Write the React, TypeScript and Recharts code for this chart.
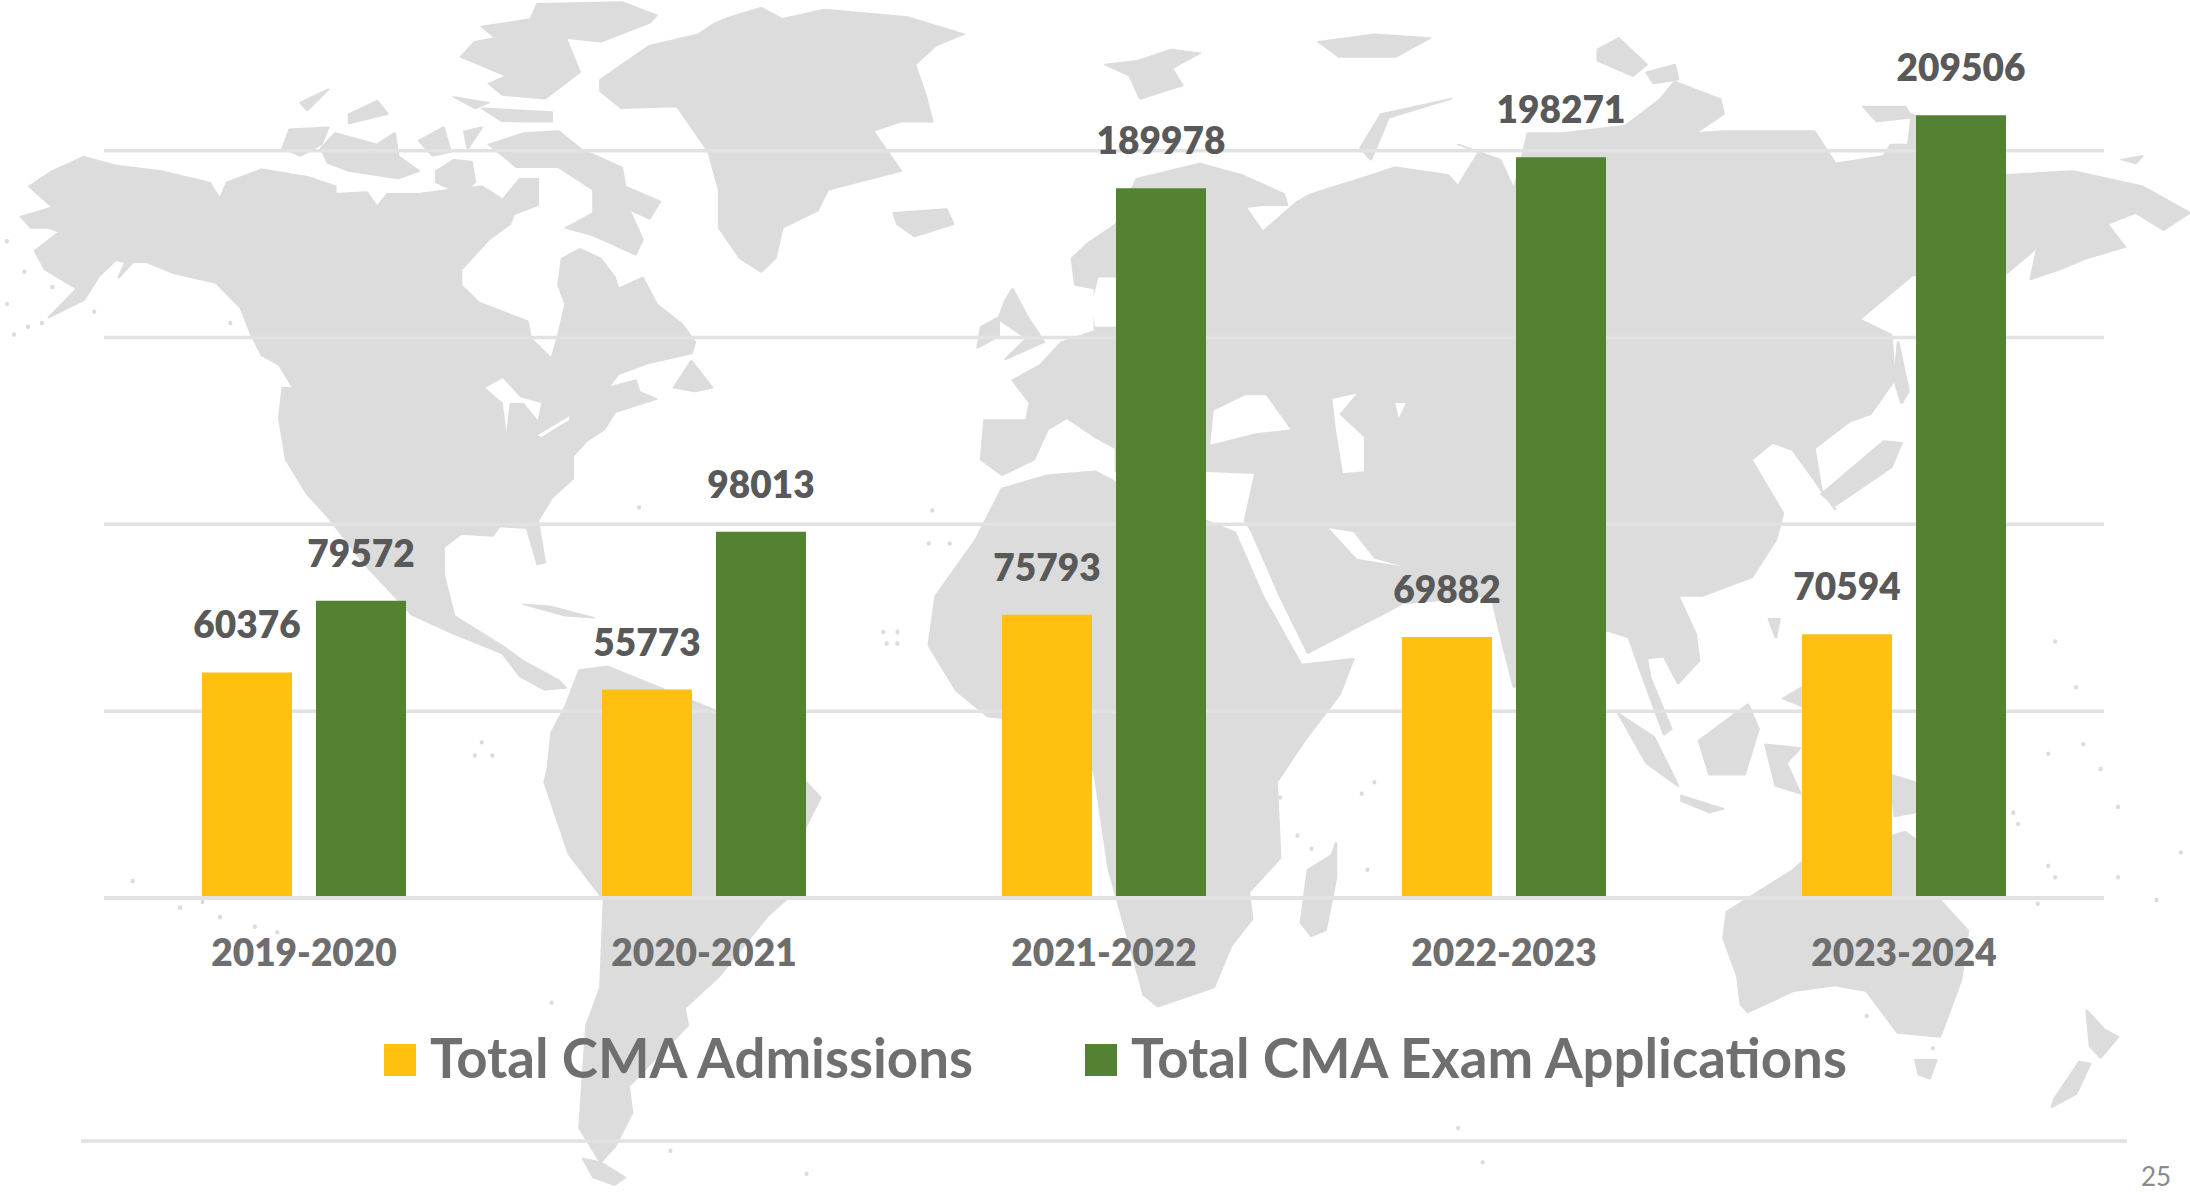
import { BarChart, Bar, XAxis, YAxis, CartesianGrid, Legend, LabelList, ReferenceLine } from 'recharts'

const years = ['2019-2020', '2020-2021', '2021-2022', '2022-2023', '2023-2024']
const admissions = [60376, 55773, 75793, 69882, 70594]
const applications = [79572, 98013, 189978, 198271, 209506]
const yTicks = [0, 50000, 100000, 150000, 200000]

const rows = years.map((year, i) => ({ year, admissions: admissions[i], applications: applications[i] }))

const FONT = 'Lato, sans-serif'
const MAP = '#dcdcdc'
const GRID = '#e2e2e2'

// background map, hand traced. Each quadrant is in its own zoomed coordinates
const leftTop = [
  'M42,490 L75,450 L120,412 L165,435 L230,450 L300,480 L315,525 L325,480 L375,445 L440,465 L480,490 L480,510 L525,505 L540,545 L555,510 L600,510 L640,500 L690,490 L720,525 L745,470 L770,470 L770,540 L735,565 L730,590 L700,630 L690,650 L660,710 L660,750 L685,795 L755,845 L760,890 L790,945 L800,880 L810,800 L800,750 L805,680 L830,655 L860,680 L880,730 L885,760 L920,730 L940,800 L975,850 L985,875 L995,900 L990,930 L930,955 L885,985 L870,1020 L910,1000 L915,1030 L940,1050 L880,1085 L865,1130 L840,1160 L820,1200 L820,1260 L790,1310 L770,1370 L780,1480 L770,1485 L755,1390 L715,1385 L705,1410 L660,1405 L635,1440 L635,1510 L650,1620 L720,1700 L750,1740 L800,1790 L810,1810 L780,1815 L745,1780 L720,1720 L650,1668 L590,1618 L565,1568 L520,1480 L470,1360 L440,1300 L410,1210 L400,1100 L405,1020 L420,1020 L400,960 L375,935 L360,880 L345,810 L310,745 L250,720 L210,690 L190,690 L170,730 L180,690 L165,685 L140,730 L120,790 L70,835 L110,760 L65,710 L50,660 L85,610 L70,600 L45,600 L30,570 L75,545 Z',
  'M690,70 L760,50 L770,10 L890,5 L940,40 L930,60 L860,110 L810,100 L830,190 L780,260 L720,250 L700,220 L725,200 L660,150 L680,110 L710,100 Z',
  'M700,380 L750,350 L800,345 L830,390 L890,440 L895,490 L945,530 L930,575 L900,550 L920,630 L910,670 L850,620 L810,600 L850,560 L850,500 L800,440 L740,440 Z',
  'M460,390 L480,350 L540,380 L565,350 L570,410 L600,450 L570,470 L500,450 L470,430 Z',
  'M415,340 L470,335 L460,380 L430,410 L405,390 Z',
  'M600,370 L635,335 L645,400 L620,410 Z',
  'M665,345 L690,335 L670,390 Z',
  'M500,300 L540,265 L555,300 L500,325 Z',
  'M650,420 L675,425 L680,480 L660,510 L625,480 L625,450 Z',
  'M430,270 L470,235 L440,290 Z',
  'M690,285 L790,295 L790,320 L720,320 Z',
  'M650,255 L700,270 L680,285 Z',
  'M860,210 L930,120 L1000,90 L1025,60 L1045,45 L1090,20 L1120,50 L1180,25 L1300,45 L1380,90 L1340,120 L1310,170 L1325,250 L1335,320 L1290,320 L1250,345 L1290,450 L1185,500 L1170,555 L1120,600 L1110,680 L1090,715 L1060,680 L1030,600 L1030,500 L1015,400 L970,280 L890,285 L860,240 Z',
  'M1280,560 L1355,550 L1365,590 L1310,622 L1285,590 Z',
  'M1440,790 L1450,760 L1470,830 L1495,900 L1440,945 L1470,890 L1430,840 Z',
  'M1405,860 L1430,835 L1430,885 L1400,915 Z',
  'M965,1020 L990,950 L1020,1020 L995,1030 Z',
  'M750,1590 L790,1596 L850,1625 L810,1620 Z',
  'M830,1763 L870,1753 L1024,1868 L1154,2058 L1175,2098 L1150,2188 L1125,2368 L1100,2408 L1030,2568 L980,2653 L985,2698 L900,2858 L905,2928 L880,3018 L860,3058 L830,2968 L840,2698 L860,2598 L865,2368 L815,2248 L780,2058 L785,2018 L790,1928 L810,1858 Z',
  'M835,3048 L860,3058 L895,3098 L880,3118 L850,3098 Z',
]
const leftTopWhite = [
  'M695,1020 L720,995 L745,1045 L775,1060 L770,1105 L750,1060 L730,1060 L725,1135 L720,1060 Z',
  'M770,1145 L815,1095 L815,1105 L775,1150 Z',
  'M660,300 L700,320 L790,325 L790,340 L700,335 Z',
]
const rightTop = [
  'M-33,680 L-10,640 L30,590 L60,470 L150,430 L210,460 L270,510 L275,540 L240,540 L215,545 L240,610 L290,530 L310,510 L345,490 L380,470 L430,440 L505,460 L520,490 L550,400 L520,380 L580,420 L600,500 L620,350 L670,350 L760,330 L810,260 L830,215 L895,260 L900,300 L860,350 L900,345 L1030,345 L1060,430 L1130,410 L1140,380 L1165,380 L1170,300 L1305,460 L1400,450 L1500,490 L1568,560 L1530,605 L1490,560 L1450,590 L1475,650 L1420,680 L1380,710 L1340,735 L1350,650 L1305,720 L1170,725 L1095,840 L1140,880 L1145,1000 L1110,1090 L1080,1110 L1030,1180 L1040,1290 L1060,1340 L1000,1185 L970,1165 L940,1210 L985,1350 L975,1420 L940,1520 L870,1568 L835,1568 L860,1668 L865,1738 L835,1798 L815,1728 L790,1733 L795,1783 L825,1918 L815,1933 L780,1758 L765,1678 L731,1658 L600,1808 L585,1700 L568,1568 L440,1588 L420,1608 L305,1718 L265,1568 L225,1400 L215,1370 L230,1245 L160,1240 L30,1240 L30,1180 L0,1150 L-40,1100 L-68,1130 L-88,1210 L-133,1250 L-163,1210 L-158,1105 L-98,1105 L-93,1060 L-118,1000 L-78,960 L-48,900 L0,870 L0,760 L-28,750 Z',
  'M380,390 L410,300 L510,260 L420,310 L395,420 Z',
  'M15,170 L60,160 L110,130 L150,140 L110,180 L125,225 L65,260 L50,200 Z',
  'M320,110 L400,90 L480,100 L430,150 L350,150 Z',
  'M720,130 L750,100 L790,170 L770,200 L720,160 Z',
  'M790,190 L830,170 L835,210 L800,220 Z',
  'M1100,280 L1160,280 L1170,310 L1120,320 Z',
  'M1470,420 L1500,410 L1490,430 Z',
  'M1040,1300 L1130,1160 L1155,1165 L1140,1230 L1060,1330 Z',
  'M1150,900 L1165,1030 L1155,1060 L1145,1000 Z',
]
const rightTopWhite = [
  'M170,1080 L215,1040 L245,1040 L280,1130 L230,1140 L165,1170 Z',
  'M340,1050 L375,1035 L350,1090 L385,1150 L385,1240 L355,1245 L345,1130 Z',
  'M430,1060 L445,1060 L435,1100 Z',
  'M335,1390 L370,1400 L400,1470 L440,1490 L375,1470 Z',
  'M5,730 L30,730 L30,860 L0,860 L-5,800 Z',
]
const rightBottom = [
  'M-133,-283 L-68,-318 L0,-328 L30,-300 L160,-198 L200,-168 L240,0 L295,180 L370,165 L350,260 L300,380 L260,490 L265,690 L220,780 L225,850 L195,920 L170,1030 L90,1080 L70,1050 L40,850 L20,720 L0,470 L-30,340 L-153,318 L-198,250 L-238,130 L-228,0 L-170,-150 Z',
  'M345,650 L345,740 L330,880 L310,895 L295,860 L305,720 L340,680 Z',
  'M905,830 L1000,720 L1012,700 L1160,620 L1175,640 L1205,790 L1250,880 L1240,1010 L1210,1160 L1150,1150 L1105,1040 L1060,1025 L1000,1040 L935,1095 L925,1075 L920,1000 L900,900 Z',
  'M1175,1220 L1205,1220 L1195,1270 L1180,1260 Z',
  'M1420,1090 L1445,1140 L1465,1160 L1440,1215 L1425,1185 Z',
  'M1410,1225 L1425,1230 L1405,1310 L1370,1345 L1375,1320 Z',
  'M750,310 L800,370 L835,500 L790,440 Z',
  'M865,380 L935,285 L950,350 L930,470 L880,470 Z',
  'M960,390 L1010,400 L990,440 L1010,520 L975,500 Z',
  'M840,525 L900,560 L880,570 L840,540 Z',
  'M1012,240 L1012,290 L985,270 Z',
  'M1140,470 L1175,490 L1175,570 L1145,580 Z',
  'M965,60 L980,60 L975,110 Z',
]
const specksLeft = [[10, 635], [35, 715], [75, 755], [10, 800], [20, 880], [40, 860], [60, 850], [135, 820], [330, 850], [915, 1335], [1335, 1343], [1330, 1430], [1360, 1430], [690, 1953], [680, 1988], [705, 1988], [190, 2318], [258, 2388], [290, 2373], [315, 2413], [365, 2438], [397, 2453], [790, 2638], [960, 3028], [1155, 3088], [1265, 1663], [1285, 1663], [1270, 1693], [1285, 1693]]
const specksRight = [[1375, 120], [1405, 240], [1365, 415], [1415, 390], [1440, 455], [1465, 555], [1365, 710], [1375, 740], [1520, 800], [1555, 675], [1465, 740], [1315, 570], [1322, 600], [400, 490], [382, 520], [390, 720], [265, 530], [290, 630], [310, 665], [1350, 810], [520, 1400], [555, 1490], [1105, 1105], [1200, 1190]]

function WorldMap() {
  return (
    <svg width={2190} height={1192} style={{ position: 'absolute', left: 0, top: 0 }}>
      <g transform={`scale(${1 / 1.432} ${1 / 2.631})`} fill={MAP} stroke={MAP} strokeWidth={4} strokeLinejoin="round">
        {leftTop.map((d, i) => <path key={i} d={d} />)}
        {leftTopWhite.map((d, i) => <path key={i} d={d} fill="#fff" stroke="none" />)}
        {specksLeft.map(([x, y], i) => <ellipse key={i} cx={x} cy={y} rx={3} ry={6} stroke="none" />)}
      </g>
      <g transform={`translate(1095 0) scale(${1 / 1.432} ${1 / 2.631})`} fill={MAP} stroke={MAP} strokeWidth={4} strokeLinejoin="round">
        {rightTop.map((d, i) => <path key={i} d={d} />)}
        {rightTopWhite.map((d, i) => <path key={i} d={d} fill="#fff" stroke="none" />)}
      </g>
      <g transform={`translate(1095 596) scale(${1 / 1.432} ${1 / 2.631})`} fill={MAP} stroke={MAP} strokeWidth={4} strokeLinejoin="round">
        {rightBottom.map((d, i) => <path key={i} d={d} />)}
        {specksRight.map(([x, y], i) => <ellipse key={i} cx={x} cy={y} rx={3} ry={6} stroke="none" />)}
      </g>
      <line x1={81} x2={2127} y1={1141} y2={1141} stroke={GRID} strokeWidth={3.5} />
    </svg>
  )
}

function LegendRow({ payload }: any) {
  return (
    <div style={{ display: 'flex', alignItems: 'center', height: 70, paddingLeft: 384, fontFamily: FONT, fontWeight: 700, fontSize: 54.6, color: '#6f6f6f' }}>
      {(payload || []).map((entry: any) => (
        <div key={entry.value} style={{ display: 'flex', alignItems: 'center', marginRight: 112 }}>
          <span style={{ width: 32, height: 32, background: entry.color, marginRight: 14 }} />
          <span style={{ whiteSpace: 'nowrap', position: 'relative', top: -3 }}>{entry.value}</span>
        </div>
      ))}
    </div>
  )
}

const labelStyle = { fill: '#595959', fontFamily: FONT, fontWeight: 800, fontSize: 37 }

export default function App() {
  return (
    <div style={{ position: 'absolute', left: 0, top: 0, width: 2190, height: 1192, background: '#fff', overflow: 'hidden' }}>
      <WorldMap />
      <div style={{ position: 'absolute', left: 0, top: 0 }}>
        <BarChart
          width={2190}
          height={1192}
          data={rows}
          barSize={90}
          barGap={24}
          margin={{ top: 76, right: 86, left: 104, bottom: 144 }}
        >
          <CartesianGrid vertical={false} syncWithTicks stroke={GRID} strokeWidth={3.5} />
          <XAxis
            dataKey="year"
            height={80}
            axisLine={false}
            tickLine={false}
            tickMargin={36}
            tick={{ fill: '#6e6e6e', fontFamily: FONT, fontWeight: 800, fontSize: 37 }}
          />
          <YAxis hide domain={[0, 220000]} ticks={yTicks} />
          <Legend
            content={<LegendRow />}
            wrapperStyle={{ top: 1025, left: 0, bottom: 'auto', width: 2190, height: 70 }}
          />
          <Bar dataKey="admissions" name="Total CMA Admissions" fill="#FFC010" isAnimationActive={false}>
            <LabelList dataKey="admissions" position="top" offset={34} style={labelStyle} />
          </Bar>
          <Bar dataKey="applications" name="Total CMA Exam Applications" fill="#548235" isAnimationActive={false}>
            <LabelList dataKey="applications" position="top" offset={34} style={labelStyle} />
          </Bar>
          <ReferenceLine y={0} stroke={GRID} strokeWidth={4} />
        </BarChart>
      </div>
      <div style={{ position: 'absolute', left: 2141, top: 1160, fontFamily: FONT, fontSize: 26, color: '#8a8a8a' }}>25</div>
    </div>
  )
}
